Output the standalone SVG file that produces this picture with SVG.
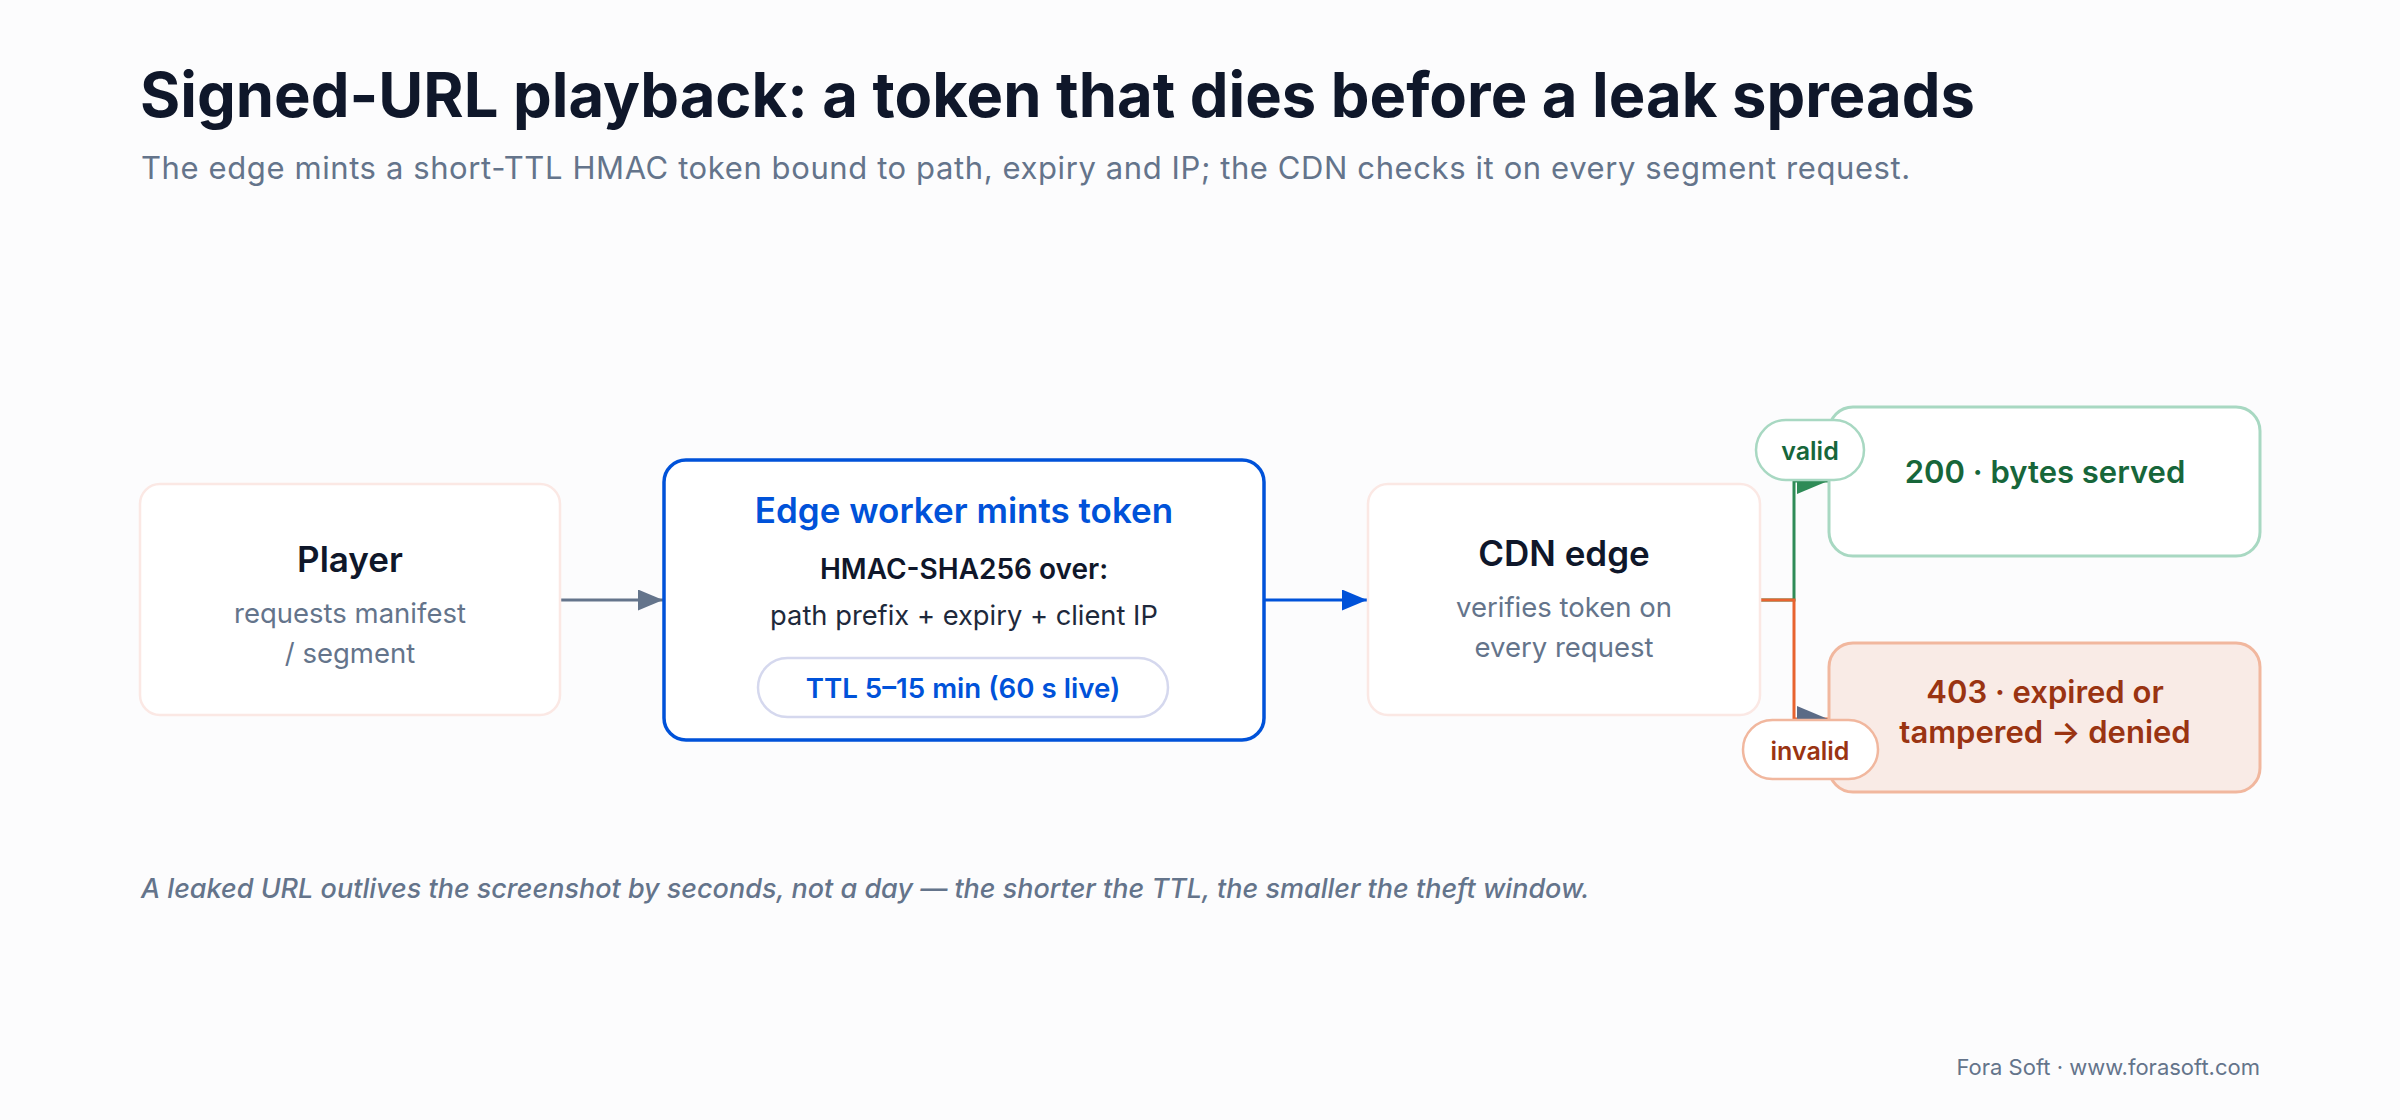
<svg xmlns="http://www.w3.org/2000/svg" width="2400" height="1120" viewBox="0 0 2400 1120">
<defs>
<style>
text{font-family:Inter,"Noto Sans","Liberation Sans",sans-serif}
.title{font-size:61.5px;font-weight:700;fill:#0f172a}
.sub{font-size:31px;letter-spacing:0.6px;fill:#64748b}
.nt{font-size:35px;font-weight:600;fill:#0f172a;text-anchor:middle}
.ns{font-size:27.5px;fill:#64748b;text-anchor:middle}
.box{fill:#ffffff;stroke:#fbe8e4;stroke-width:2.5}
.note{font-size:27px;font-style:italic;font-weight:500;fill:#64748b}
.foot{font-size:22px;fill:#64748b;text-anchor:end}
.res{font-size:31px;font-weight:600;text-anchor:middle}
.lbl{font-size:25px;font-weight:600;text-anchor:middle}
</style>
<marker id="ag" viewBox="0 0 25 21" refX="25" refY="10.5" markerWidth="25" markerHeight="21" markerUnits="userSpaceOnUse" orient="auto"><path d="M0,0L25,10.5L0,21z" fill="#64748b"/></marker>
<marker id="ab" viewBox="0 0 25 21" refX="25" refY="10.5" markerWidth="25" markerHeight="21" markerUnits="userSpaceOnUse" orient="auto"><path d="M0,0L25,10.5L0,21z" fill="#0052d9"/></marker>
<marker id="bg" viewBox="0 0 31 26" refX="31" refY="13" markerWidth="31" markerHeight="26" markerUnits="userSpaceOnUse" orient="auto"><path d="M0,0L31,13L0,26z" fill="#2e8b57"/></marker>
<marker id="bs" viewBox="0 0 31 26" refX="31" refY="13" markerWidth="31" markerHeight="26" markerUnits="userSpaceOnUse" orient="auto"><path d="M0,0L31,13L0,26z" fill="#5b6b86"/></marker>
</defs>
<rect width="2400" height="1120" fill="#fcfcfd"/>
<text class="title" x="140" y="117">Signed-URL playback: a token that dies before a leak spreads</text>
<text class="sub" x="141" y="179">The edge mints a short-TTL HMAC token bound to path, expiry and IP; the CDN checks it on every segment request.</text>
<g id="connectors" fill="none" stroke-width="3">
<path d="M560,600H663" stroke="#64748b" marker-end="url(#ag)"/>
<path d="M1264,600H1367" stroke="#0052d9" marker-end="url(#ab)"/>
<path d="M1760,600H1794V481H1828" stroke="#2e8b57" marker-end="url(#bg)"/>
<path d="M1760,600H1794V719H1828" stroke="#e8632f" marker-end="url(#bs)"/>
</g>
<g id="player">
<rect class="box" x="140" y="484" width="420" height="231" rx="20"/>
<text class="nt" x="350" y="572">Player</text>
<text class="ns" x="350" y="623">requests manifest</text>
<text class="ns" x="350" y="663">/ segment</text>
</g>
<g id="edge-worker">
<rect x="664" y="460" width="600" height="280" rx="22" fill="#ffffff" stroke="#0052d9" stroke-width="3.5"/>
<text x="964" y="523" text-anchor="middle" font-size="35" font-weight="600" fill="#0052d9">Edge worker mints token</text>
<text x="964" y="579" text-anchor="middle" font-size="28" font-weight="600" fill="#0f172a">HMAC-SHA256 over:</text>
<text x="964" y="625" text-anchor="middle" font-size="27.3" fill="#1e293b">path prefix + expiry + client IP</text>
<rect x="758" y="658" width="410" height="59" rx="29.5" fill="#ffffff" stroke="#d5d8ee" stroke-width="2.5"/>
<text x="963" y="698" text-anchor="middle" font-size="27.7" font-weight="600" fill="#0052d9">TTL 5–15 min (60 s live)</text>
</g>
<g id="cdn-edge">
<rect class="box" x="1368" y="484" width="392" height="231" rx="20"/>
<text class="nt" x="1564" y="566">CDN edge</text>
<text class="ns" x="1564" y="617">verifies token on</text>
<text class="ns" x="1564" y="657">every request</text>
</g>
<g id="served">
<rect x="1829" y="407" width="431" height="149" rx="24" fill="#ffffff" stroke="#a8d8c2" stroke-width="3"/>
<text class="res" x="2045" y="483" fill="#17663a">200 · bytes served</text>
</g>
<g id="denied">
<rect x="1829" y="643" width="431" height="149" rx="24" fill="#f9ebe6" stroke="#f1b79e" stroke-width="3"/>
<text class="res" x="2045" y="703" fill="#9a3412">403 · expired or</text>
<text class="res" x="2045" y="743" fill="#9a3412">tampered → denied</text>
</g>
<g id="label-valid">
<rect x="1756" y="420" width="108" height="60" rx="30" fill="#ffffff" stroke="#a8d8c2" stroke-width="2.5"/>
<text class="lbl" x="1810" y="460" fill="#17663a">valid</text>
</g>
<g id="label-invalid">
<rect x="1743" y="720" width="135" height="59" rx="29.5" fill="#ffffff" stroke="#f1b79e" stroke-width="2.5"/>
<text class="lbl" x="1810" y="760" fill="#9a3412">invalid</text>
</g>
<text class="note" x="141" y="898">A leaked URL outlives the screenshot by seconds, not a day — the shorter the TTL, the smaller the theft window.</text>
<text class="foot" x="2260" y="1075">Fora Soft · www.forasoft.com</text>
</svg>
